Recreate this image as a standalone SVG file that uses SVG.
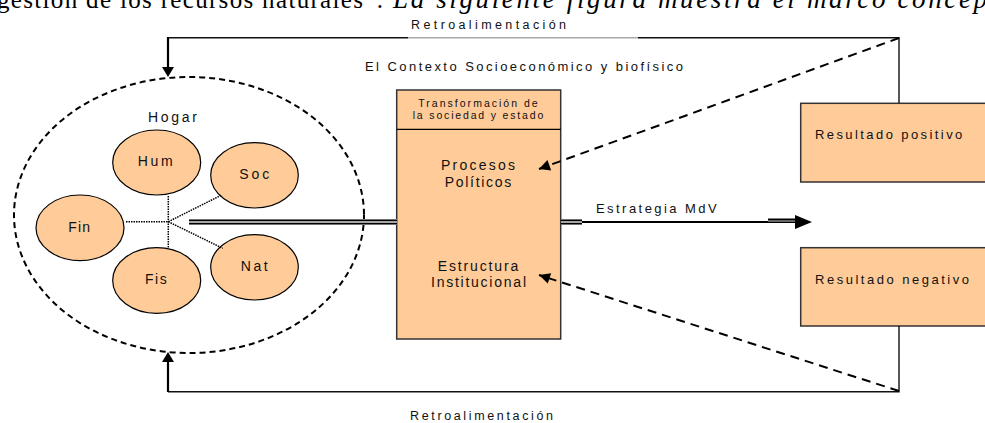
<svg xmlns="http://www.w3.org/2000/svg" width="985" height="423" viewBox="0 0 985 423">
<style>
  .t{font-family:"Liberation Sans",Arial,sans-serif;fill:#111;}
  .page{font-family:"Liberation Serif","Times New Roman",serif;fill:#000;}
  .node{fill:#FFCC99;stroke:#000;stroke-width:1.2;}
  .box{fill:#FFCC99;stroke:#333;stroke-width:1.5;}
  .solid{fill:none;stroke:#111;stroke-width:1.4;}
  .dash{fill:none;stroke:#000;stroke-width:2;stroke-dasharray:9 6;}
  .dot{fill:none;stroke:#000;stroke-width:1.5;stroke-dasharray:1.5 1;}
</style>
<defs>
  <marker id="ah" viewBox="0 0 10 10" refX="10" refY="5" markerWidth="16" markerHeight="11" markerUnits="userSpaceOnUse" orient="auto">
    <path d="M0,0 L10,5 L0,10 z" fill="#000"/>
  </marker>
</defs>
<rect width="985" height="423" fill="#fff"/>

<!-- page text (cut at the top edge as in the reference) -->
<text class="page" x="-3" y="8" font-size="25" textLength="386" lengthAdjust="spacing">gestión de los recursos naturales”.</text>
<text class="page" x="393" y="8" font-size="27" font-style="italic" textLength="594" lengthAdjust="spacing">La siguiente figura muestra el marco concep</text>

<!-- Hogar -->
<g id="hogar">
  <ellipse cx="189" cy="215" rx="175" ry="138" fill="none" stroke="#000" stroke-width="2" stroke-dasharray="6 4"/>
  <text class="t" x="148" y="122" font-size="14" textLength="49" lengthAdjust="spacing">Hogar</text>
</g>
<g id="hum">
  <ellipse class="node" cx="156.7" cy="162.5" rx="44" ry="32.5"/>
  <text class="t" x="137.7" y="166" font-size="14" textLength="35" lengthAdjust="spacing">Hum</text>
</g>
<g id="soc">
  <ellipse class="node" cx="254.5" cy="175.3" rx="43.8" ry="32.7"/>
  <text class="t" x="239.3" y="179.3" font-size="14" textLength="30" lengthAdjust="spacing">Soc</text>
</g>
<g id="fin">
  <ellipse class="node" cx="80" cy="227.8" rx="44" ry="32.8"/>
  <text class="t" x="68.3" y="232" font-size="14" textLength="21.7" lengthAdjust="spacing">Fin</text>
</g>
<g id="fis">
  <ellipse class="node" cx="156.7" cy="280.5" rx="44" ry="32.8"/>
  <text class="t" x="145" y="284" font-size="14" textLength="21.7" lengthAdjust="spacing">Fis</text>
</g>
<g id="nat">
  <ellipse class="node" cx="254.5" cy="267.3" rx="43.8" ry="32.7"/>
  <text class="t" x="240.7" y="271.3" font-size="14" textLength="27" lengthAdjust="spacing">Nat</text>
</g>

<!-- Context label and feedback labels -->
<text class="t" x="365" y="70.5" font-size="13" textLength="318" lengthAdjust="spacing">El Contexto Socioeconómico y biofísico</text>
<text class="t" x="411" y="29.3" font-size="12.5" textLength="155" lengthAdjust="spacing">Retroalimentación</text>
<text class="t" x="410" y="420" font-size="12.5" textLength="143" lengthAdjust="spacing">Retroalimentación</text>

<!-- central box -->
<g id="transformacion">
  <rect class="box" x="396.7" y="90" width="164" height="249"/>
  <path d="M396.7,129.3 H560.7" stroke="#000" stroke-width="1.2"/>
  <text class="t" x="418.3" y="106.7" font-size="10.5" textLength="119.4" lengthAdjust="spacing">Transformación de</text>
  <text class="t" x="412.7" y="119.3" font-size="10.5" textLength="130.6" lengthAdjust="spacing">la sociedad y estado</text>
  <text class="t" x="441" y="170" font-size="14" textLength="74" lengthAdjust="spacing">Procesos</text>
  <text class="t" x="444.7" y="186.7" font-size="14" textLength="66.6" lengthAdjust="spacing">Políticos</text>
  <text class="t" x="437.7" y="271" font-size="14" textLength="80.6" lengthAdjust="spacing">Estructura</text>
  <text class="t" x="431" y="286.7" font-size="14" textLength="95" lengthAdjust="spacing">Institucional</text>
</g>

<text class="t" x="596" y="213.3" font-size="13" textLength="120.7" lengthAdjust="spacing">Estrategia MdV</text>

<!-- results -->
<g id="positivo">
  <rect class="box" x="800.7" y="103.3" width="200" height="78.7"/>
  <text class="t" x="815" y="139.3" font-size="13" textLength="147.3" lengthAdjust="spacing">Resultado positivo</text>
</g>
<g id="negativo">
  <rect class="box" x="800.7" y="247.7" width="200" height="78.3"/>
  <text class="t" x="815" y="284" font-size="13" textLength="154" lengthAdjust="spacing">Resultado negativo</text>
</g>

<!-- connectors -->
<g id="connectors">
  <!-- top feedback -->
  <path class="solid" d="M168,37.7 H408"/>
  <path d="M408,37.7 H638" fill="none" stroke="#aaa" stroke-width="1.4"/>
  <path class="solid" d="M638,37.7 H899 V103"/>
  <path d="M168,37 V68" fill="none" stroke="#000" stroke-width="2.2"/>
  <path d="M162,67 L174,67 L168,77 z" fill="#000"/>
  <!-- bottom feedback -->
  <path class="solid" d="M899,326 V391.7 H168"/>
  <path d="M168,392 V361" fill="none" stroke="#000" stroke-width="2.2"/>
  <path d="M162,362 L174,362 L168,352 z" fill="#000"/>
  <!-- dashed arrows -->
  <path class="dash" d="M899,38 L539,169" marker-end="url(#ah)"/>
  <path class="dash" d="M899,391 L539,275" marker-end="url(#ah)"/>
  <!-- dotted links -->
  <path class="dot" d="M168.3,196 V248"/>
  <path class="dot" d="M126,221.7 H168.3"/>
  <path class="dot" d="M168.3,221.7 L221.7,195"/>
  <path class="dot" d="M168.3,221.7 L222.7,248.3"/>
  <!-- strategy double line -->
  <path d="M189,222 H397 M561,222 H582" fill="none" stroke="#999" stroke-width="6"/>
  <path d="M189,222 H397 M561,222 H582" fill="none" stroke="#000" stroke-width="4.6"/>
  <path d="M189,222 H397 M561,222 H582" fill="none" stroke="#ddd" stroke-width="1.3"/>
  <path d="M582,222 H797" fill="none" stroke="#000" stroke-width="2"/>
  <path d="M768,220.5 H797" fill="none" stroke="#000" stroke-width="4"/>
  <path d="M768,221 H797" fill="none" stroke="#ccc" stroke-width="1"/>
  <path d="M795,215 L812,222 L795,229 z" fill="#000"/>
</g>
</svg>
